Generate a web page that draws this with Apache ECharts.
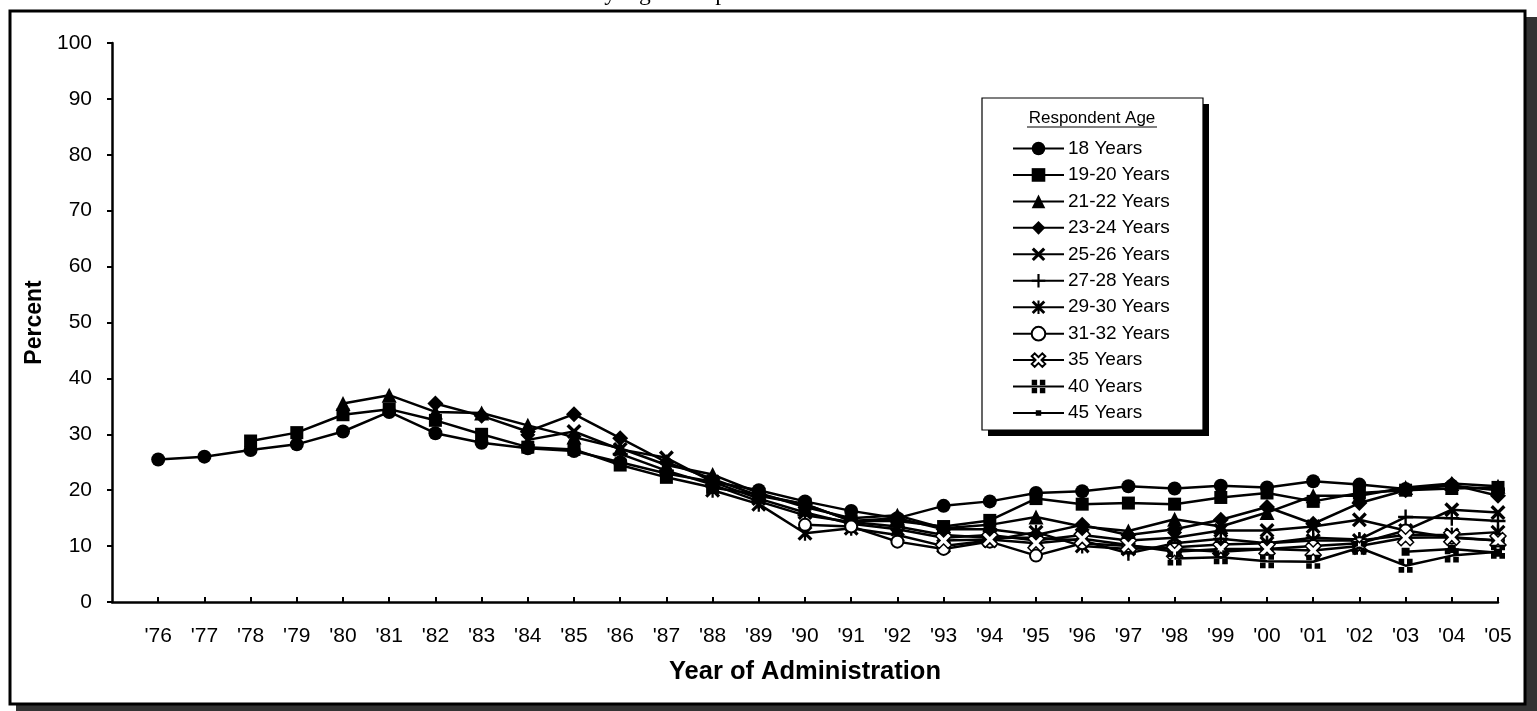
<!DOCTYPE html>
<html>
<head>
<meta charset="utf-8">
<script src="https://cdn.jsdelivr.net/npm/echarts@6/dist/echarts.min.js"></script>
<style>
html,body{margin:0;padding:0;background:#fff;}
#chart{width:1537px;height:711px;}
</style>
</head>
<body>
<div id="chart"></div>
<script>
const years = ["'76","'77","'78","'79","'80","'81","'82","'83","'84","'85","'86","'87","'88","'89","'90","'91","'92","'93","'94","'95","'96","'97","'98","'99","'00","'01","'02","'03","'04","'05"];
const yTicks = [0,10,20,30,40,50,60,70,80,90,100];
const seriesNames = ["18 Years","19-20 Years","21-22 Years","23-24 Years","25-26 Years","27-28 Years","29-30 Years","31-32 Years","35 Years","40 Years","45 Years"];

const age18   = [25.5,26.0,27.2,28.2,30.5,34.0,30.2,28.5,27.5,27.0,25.0,23.0,21.5,20.0,18.0,16.3,15.0,17.2,18.0,19.5,19.8,20.7,20.3,20.8,20.5,21.6,21.0,20.2,20.8,20.0];
const age1920 = [null,null,28.8,30.3,33.5,34.5,32.5,30.0,27.7,27.3,24.5,22.3,20.5,19.2,17.5,14.5,14.5,13.5,14.6,18.5,17.5,17.7,17.5,18.7,19.5,18.0,19.5,20.0,20.3,20.5];
const age2122 = [null,null,null,null,35.5,37.0,34.0,33.8,31.6,29.5,27.5,24.5,22.8,19.5,17.0,15.0,15.5,13.2,13.8,15.2,13.5,12.7,14.8,13.5,16.0,19.0,19.0,20.5,21.2,20.7];
const age2324 = [null,null,null,null,null,null,35.5,33.3,30.5,33.6,29.3,25.0,22.0,19.0,17.5,14.5,15.0,13.0,13.0,12.0,13.8,12.0,13.0,14.7,17.0,14.0,17.7,20.0,21.0,19.0];
const age2526 = [null,null,null,null,null,null,null,null,29.0,30.5,27.3,25.8,21.5,18.5,16.0,14.0,13.0,11.5,12.0,11.0,12.0,11.0,11.5,12.8,12.8,13.5,14.7,12.8,16.5,16.0];
const age2728 = [null,null,null,null,null,null,null,null,null,null,26.5,23.5,21.0,18.0,15.5,14.3,13.5,12.0,11.5,11.5,11.0,8.7,10.5,11.3,10.5,11.5,11.2,15.2,15.0,14.5];
const age2930 = [null,null,null,null,null,null,null,null,null,null,null,null,20.0,17.5,12.3,13.2,12.0,10.0,11.0,12.5,10.0,9.5,9.8,10.3,10.5,11.0,11.0,12.0,12.0,12.5];
const age3132 = [null,null,null,null,null,null,null,null,null,null,null,null,null,null,13.8,13.5,10.8,9.5,10.8,8.3,10.5,10.0,9.5,9.0,9.5,10.0,10.5,12.8,11.5,11.0];
const age35   = [null,null,null,null,null,null,null,null,null,null,null,null,null,null,null,null,null,11.0,11.2,10.5,11.3,10.2,9.0,9.5,9.5,9.2,10.0,11.5,11.6,11.0];
const age40   = [null,null,null,null,null,null,null,null,null,null,null,null,null,null,null,null,null,null,null,null,null,null,7.8,8.0,7.3,7.2,9.7,6.5,8.3,9.0];
const age45   = [null,null,null,null,null,null,null,null,null,null,null,null,null,null,null,null,null,null,null,null,null,null,null,null,null,null,null,9.0,9.5,8.8];

const allData = [age18,age1920,age2122,age2324,age2526,age2728,age2930,age3132,age35,age40,age45];

const X_PATH = 'path://M0,1.6 L1.6,0 L5,3.4 L8.4,0 L10,1.6 L6.6,5 L10,8.4 L8.4,10 L5,6.6 L1.6,10 L0,8.4 L3.4,5 Z';
const FAT_X_PATH = 'path://M0,2.2 L2.2,0 L5,2.8 L7.8,0 L10,2.2 L7.2,5 L10,7.8 L7.8,10 L5,7.2 L2.2,10 L0,7.8 L2.8,5 Z';
const PLUS_PATH = 'path://M4.2,0 L5.8,0 L5.8,4.2 L10,4.2 L10,5.8 L5.8,5.8 L5.8,10 L4.2,10 L4.2,5.8 L0,5.8 L0,4.2 L4.2,4.2 Z';
const AST_PATH = 'path://M0,1.5 L1.5,0 L5,3.5 L8.5,0 L10,1.5 L6.5,5 L10,8.5 L8.5,10 L5,6.5 L1.5,10 L0,8.5 L3.5,5 Z M4.25,0 L5.75,0 L5.75,10 L4.25,10 Z';
const QUAD_PATH = 'path://M0,0 L4,0 L4,4 L0,4 Z M6,0 L10,0 L10,4 L6,4 Z M6,6 L10,6 L10,10 L6,10 Z M0,6 L4,6 L4,10 L0,10 Z';
// small square padded inside a larger invisible box (tiny corner specks) so it stays small in the legend too
const SMALL_SQ_PATH = 'path://M0,0 L0.01,0 L0,0.01 Z M10,10 L9.99,10 L10,9.99 Z M3,3 L7,3 L7,7 L3,7 Z';

const markers = [
  {symbol:'circle', size:14, fill:'#000'},
  {symbol:'rect', size:13, fill:'#000'},
  {symbol:'triangle', size:15, fill:'#000'},
  {symbol:'diamond', size:16, fill:'#000'},
  {symbol:X_PATH, size:15, fill:'#000'},
  {symbol:PLUS_PATH, size:15, fill:'#000'},
  {symbol:AST_PATH, size:15, fill:'#000'},
  {symbol:'circle', size:12, fill:'#fff', border:2},
  {symbol:FAT_X_PATH, size:16, fill:'#fff', border:1.5},
  {symbol:QUAD_PATH, size:14, fill:'#000'},
  {symbol:SMALL_SQ_PATH, size:20, fill:'#000'}
];

const categories = [''].concat(years);

const series = seriesNames.map((name, i) => ({
  name: name,
  type: 'line',
  data: [null].concat(allData[i]),
  symbol: markers[i].symbol,
  symbolSize: markers[i].size,
  showAllSymbol: true,
  lineStyle: {color:'#000', width:2.5},
  itemStyle: {color: markers[i].fill, borderColor:'#000', borderWidth: markers[i].border || 0},
  emphasis: {disabled:true},
  z: 3 + i
}));

const chart = echarts.init(document.getElementById('chart'), null, {renderer:'canvas'});
chart.setOption({
  animation: false,
  backgroundColor: 'transparent',
  textStyle: {fontFamily: 'Liberation Sans, Arial, sans-serif', color:'#000'},
  graphic: [
    {type:'rect', z:-10, shape:{x:16,y:17,width:1521,height:694}, style:{fill:'#333'}},
    {type:'rect', z:-9, shape:{x:10,y:11,width:1515,height:693}, style:{fill:'#fff', stroke:'#000', lineWidth:3}},
    {type:'text', z:-8, x:727, y:6, style:{text:'Trends in Annual Prevalence by Age Group', font:'23.5px "Liberation Serif", serif', fill:'#000', textAlign:'right', textVerticalAlign:'bottom'}},
    {type:'rect', z:1, shape:{x:988,y:104,width:221,height:332}, style:{fill:'#000'}},
    {type:'rect', z:2, shape:{x:982,y:98,width:221,height:332}, style:{fill:'#fff', stroke:'#000', lineWidth:1.2}},
    {type:'text', z:3, x:1092, y:118, style:{text:'Respondent Age', font:'17px "Liberation Sans", Arial, sans-serif', fill:'#000', textAlign:'center', textVerticalAlign:'middle'}},
    {type:'line', z:3, shape:{x1:1027,y1:127,x2:1157,y2:127}, style:{stroke:'#000', lineWidth:1}}
  ],
  legend: {
    orient: 'vertical',
    left: 1012,
    top: 139,
    itemWidth: 51,
    itemHeight: 17,
    itemGap: 7.45,
    padding: 0,
    z: 10,
    data: seriesNames,
    textStyle: {fontSize:19, color:'#000', fontFamily:'Liberation Sans, Arial, sans-serif', padding:[0,0,0,-1]},
    selectedMode: false
  },
  grid: {left:112, right:39, top:43, bottom:109, containLabel:false},
  xAxis: {
    type: 'category',
    data: categories,
    boundaryGap: false,
    name: 'Year of Administration',
    nameLocation: 'middle',
    nameGap: 57,
    nameTextStyle: {fontSize:25.5, fontWeight:'bold', color:'#000', fontFamily:'Liberation Sans, Arial, sans-serif'},
    axisLine: {show:true, lineStyle:{color:'#000', width:2.5}},
    axisTick: {show:true, inside:true, length:5, lineStyle:{color:'#000', width:2}, interval: function(idx){ return idx > 0; }},
    axisLabel: {interval:0, fontSize:21, color:'#000', margin:24},
    splitLine: {show:false}
  },
  yAxis: {
    type: 'value',
    min: yTicks[0],
    max: yTicks[yTicks.length-1],
    interval: 10,
    name: 'Percent',
    nameLocation: 'middle',
    nameGap: 51,
    nameTextStyle: {fontSize:23, fontWeight:'bold', color:'#000', fontFamily:'Liberation Sans, Arial, sans-serif'},
    axisLine: {show:true, lineStyle:{color:'#000', width:2.5}},
    axisTick: {show:true, inside:false, length:5, lineStyle:{color:'#000', width:2}},
    axisLabel: {fontSize:21, color:'#000', margin:20},
    splitLine: {show:false}
  },
  series: series
});
</script>
</body>
</html>
